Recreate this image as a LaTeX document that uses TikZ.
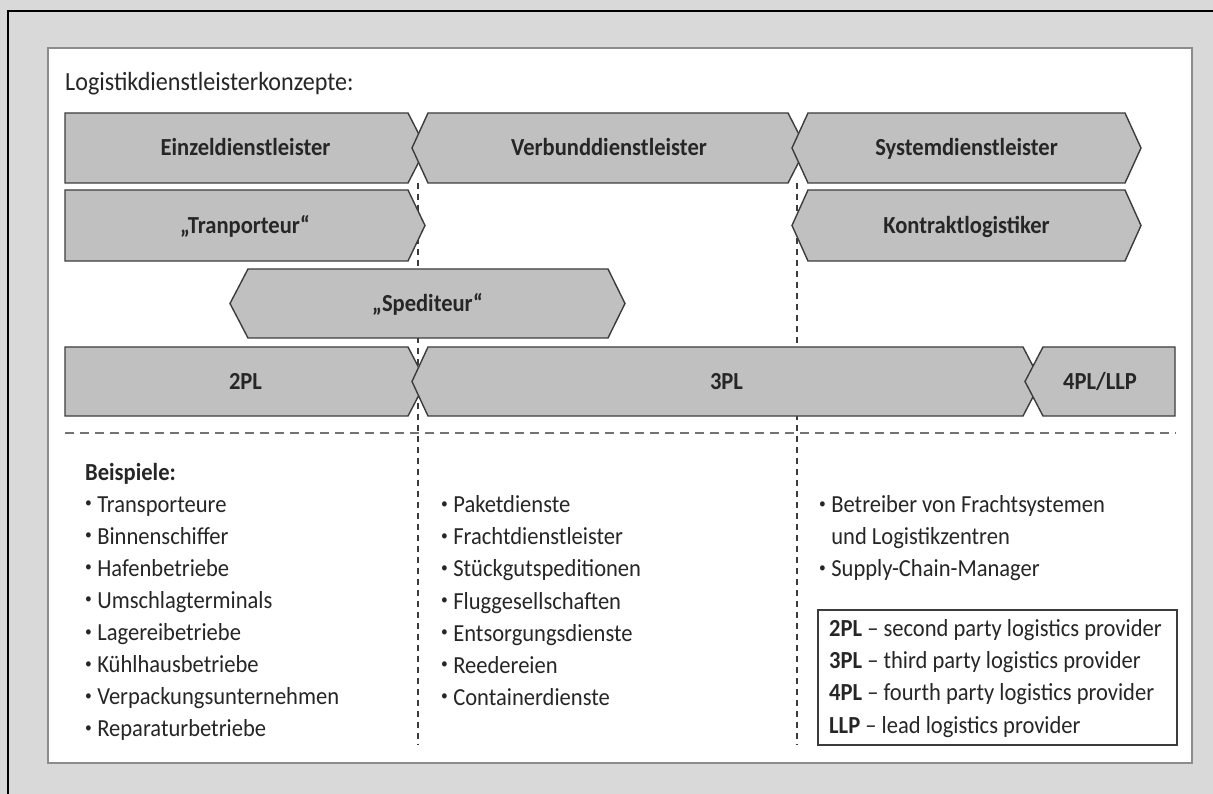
\documentclass[tikz,border=0pt]{standalone}
\usepackage{fontspec}
\usepackage{graphicx}
\setmainfont{Carlito}[FakeStretch=0.92]

\definecolor{bggray}{RGB}{217,217,217}
\definecolor{boxfill}{RGB}{192,192,192}
\definecolor{boxline}{RGB}{60,60,60}
\definecolor{panelline}{RGB}{140,140,140}
\definecolor{txt}{RGB}{38,38,38}
\definecolor{hdashcol}{RGB}{115,115,115}
\definecolor{vdashcol}{RGB}{60,60,60}

% small raised bullet for the lists
\newcommand\bul{\raisebox{0.18em}{\scalebox{0.6}{•}}\hspace{0.22em}}

% hexagonal arrow band: name, x left corner, x right corner, y top, y bottom,
% left tip depth, right tip depth, label
\newcommand\band[8]{%
  \draw[bandbox] (#2,#4) -- (#3,#4) -- ({#3+#7},{(#4+#5)/2}) -- (#3,#5) -- (#2,#5)
    -- ({#2-#6},{(#4+#5)/2}) -- cycle;
  \node[bandlabel] (#1) at ({(#2-#6+#3+#7)/2},{(#4+#5)/2+8}) {#8};
}

\begin{document}
\begin{tikzpicture}[x=1pt,y=-1pt,
  bandbox/.style={fill=boxfill,draw=boxline,line width=1.4pt,line join=miter},
  bandlabel/.style={anchor=base,inner sep=0pt,text=txt,
    font=\fontsize{24.5}{30}\selectfont\bfseries},
  % multi-line texts: the base anchor sits on the last line
  coltext/.style={anchor=base west,inner sep=0pt,align=left,text=txt,
    font=\fontsize{24.5}{32.1}\selectfont},
  hdash/.style={draw=hdashcol,line width=2pt,dash pattern=on 9pt off 6pt},
  vdash/.style={draw=vdashcol,line width=1.3pt,dash pattern=on 6pt off 5pt},
  legendbox/.style={draw=boxline,line width=1.4pt}]

% canvas
\useasboundingbox (0,0) rectangle (1213,794);
\fill[bggray] (0,0) rectangle (1213,794);
\draw[black,line width=2.5pt] (8,794) -- (8,11) -- (1213,11);
\draw[fill=white,draw=panelline,line width=2.5pt] (48,48) rectangle (1192,763);

% title
\node[anchor=base west,inner sep=0pt,text=txt,font=\fontsize{26.2}{30}\selectfont]
  (title) at (65,91) {Logistikdienstleisterkonzepte:};

% separators
\coordinate (v1t) at (418,183);
\coordinate (v1b) at (418,745);
\coordinate (v2t) at (797,183);
\coordinate (v2b) at (797,745);
\coordinate (hl) at (65,433);
\coordinate (hr) at (1176,433);
\draw[vdash] (v1t) -- (v1b);
\draw[vdash] (v2t) -- (v2b);
\draw[hdash] (hl) -- (hr);

% row 1
\band{einzel}{65}{408}{113}{183}{0}{18}{Einzeldienstleister}
\band{verbund}{428}{788}{113}{183}{16}{18}{Verbunddienstleister}
\band{system}{808}{1125}{113}{183}{16}{16}{Systemdienstleister}

% row 2
\band{transp}{65}{408}{190}{261}{0}{17}{„Tranporteur“}
\band{kontrakt}{808}{1125}{190}{261}{16}{16}{Kontraktlogistiker}

% row 3
\band{spedit}{248}{608}{269}{338}{18}{17}{„Spediteur“}

% row 4
\band{zweipl}{65}{408}{347}{416}{0}{18}{2PL}
\band{dreipl}{428}{1023}{347}{416}{16}{18}{3PL}
\band{vierpl}{1043}{1175}{347}{416}{18}{0}{4PL/LLP}

% example lists
\node[coltext] (bsp1) at (85,736.8) {\textbf{Beispiele:}\\
  \bul Transporteure\\
  \bul Binnenschiffer\\
  \bul Hafenbetriebe\\
  \bul Umschlagterminals\\
  \bul Lagereibetriebe\\
  \bul Kühlhausbetriebe\\
  \bul Verpackungsunternehmen\\
  \bul Reparaturbetriebe};

\node[coltext] (bsp2) at (441,705.3) {\bul Paketdienste\\
  \bul Frachtdienstleister\\
  \bul Stückgutspeditionen\\
  \bul Fluggesellschaften\\
  \bul Entsorgungsdienste\\
  \bul Reedereien\\
  \bul Containerdienste};

\node[coltext] (bsp3) at (819,576.9) {\bul Betreiber von Frachtsystemen\\
  \phantom{\bul}und Logistikzentren\\
  \bul Supply-Chain-Manager};

% legend
\draw[legendbox] (818,610) rectangle (1177,745);
\node[coltext] (legend) at (829,733) {\textbf{2PL} – second party logistics provider\\
  \textbf{3PL} – third party logistics provider\\
  \textbf{4PL} – fourth party logistics provider\\
  \textbf{LLP} – lead logistics provider};
\end{tikzpicture}
\end{document}
